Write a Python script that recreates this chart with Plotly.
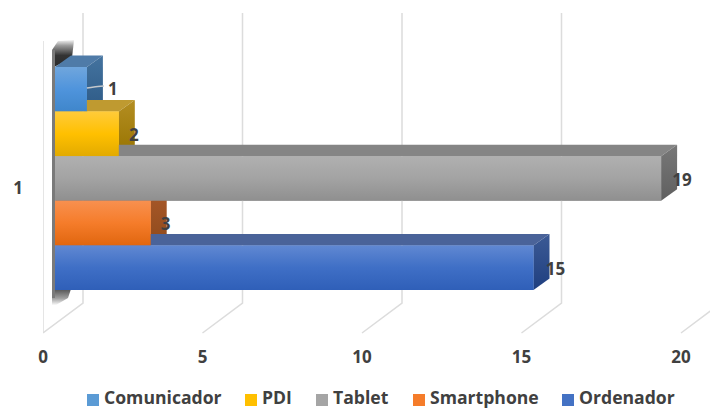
import plotly.graph_objects as go

# ---- data ----
series_names = ["Comunicador", "PDI", "Tablet", "Smartphone", "Ordenador"]
series_values = [1, 2, 19, 3, 15]
category = 1
x_ticks = [0, 5, 10, 15, 20]

# ---- style ----
front_cols = [["#70a6dd", "#4f94dc", "#3f86cb"], ["#ffcb3a", "#ffc000", "#e2aa00"],
              ["#b0b0b0", "#a3a3a3", "#8f8f8f"], ["#f8904f", "#f57c2a", "#e0660f"],
              ["#6088d2", "#3f6fc6", "#2f5fb8"]]
top_cols = ["#4f7ba8", "#bf9a30", "#858585", "#a5582a", "#4a6399"]
side_cols = [["#44739f", "#2d5a86"], ["#b48e22", "#977300"], ["#787878", "#5f5f5f"],
             ["#a9592a", "#8f4a1c"], ["#3c5a95", "#1f3f80"]]
swatch_cols = ["#5b9bd5", "#ffc000", "#a5a5a5", "#f57c2a", "#4472c4"]
label_shift = [26, 15, 21, 15, 22]   # px to the right of the front bar end
label_drop = [1.5, 3, 3, 3, 3]       # px below the row centre
legend_px = [87, 245, 316, 413, 562]
TXT = "#404040"
FONT = dict(family="Open Sans", size=17, color=TXT, weight=700)
LEGEND_FONT = dict(family="Open Sans", size=17.6, color=TXT, weight=700)
GRID = "#dcdcdc"

W, H = 710, 408
ML, MT, MB = 43, 10, 63
SX, SY = 31.9, 223.0          # px per value unit / px per category unit
Y0PX = 188                    # pixel row of category position
X = lambda p: (p - ML) / SX
Y = lambda p: category - (p - Y0PX) / SY
BASE = 12 / SX                # bars stand 12px into the floor
DX, DY = 16 / SX, 11.5 / SY   # bar depth
WX, WB, WT, WF = 40 / SX, Y(303), Y(13), Y(333)  # wall depth and rows
ROW = 0.2
TOP = category + 9.5 / SY + 0.5

fig = go.Figure()

# walls and gridlines
for t in x_ticks:
    fig.add_trace(go.Scatter(x=[t, t + WX, t + WX], y=[WF, WB, WT], mode="lines",
                             line=dict(color=GRID, width=1.5), hoverinfo="skip", showlegend=False))
fig.add_trace(go.Scatter(x=[0, 0], y=[WF, Y(41)], mode="lines",
                         line=dict(color=GRID, width=1.5), hoverinfo="skip", showlegend=False))

# base bars through the axes
for i, (n, v) in enumerate(zip(series_names, series_values)):
    fig.add_trace(go.Bar(name=n, y=[category], x=[v], base=BASE, orientation="h", width=ROW,
                         offset=TOP - ROW * (i + 1) - category, marker=dict(color=swatch_cols[i], line_width=0),
                         showlegend=False))

# shadow of the side wall
def soft(xs, ys, stops):
    fig.add_trace(go.Scatter(x=xs, y=ys, fill="toself", mode="none", hoverinfo="skip", showlegend=False,
                             fillgradient=dict(type="vertical", colorscale=stops)))
soft([X(52), X(72), X(74), X(58), X(52)], [Y(68), Y(58), Y(40), Y(41), Y(50)],
     [[0, "#2a2a2a"], [0.45, "#333333"], [0.8, "#9a9a9a"], [1, "#f4f4f4"]])
soft([X(52), X(72), X(68), X(56), X(52)], [Y(286), Y(286), Y(298), Y(305), Y(305)],
     [[0, "#fafafa"], [0.35, "#a0a0a0"], [1, "#3a3a3a"]])
fig.add_trace(go.Scatter(x=[X(52), X(55), X(55), X(52)], y=[Y(50), Y(50), Y(298), Y(298)],
                         fill="toself", mode="none", fillcolor="#7a7a7a", hoverinfo="skip", showlegend=False))

# hidden faces first: tops and sides
for i, v in enumerate(series_values):
    yt, yb = TOP - ROW * i, TOP - ROW * (i + 1)
    x0, x1 = BASE, BASE + v
    fig.add_trace(go.Scatter(x=[x0, x1, x1 + DX, x0 + DX, x0], y=[yt, yt, yt + DY, yt + DY, yt],
                             fill="toself", mode="none", fillcolor=top_cols[i], hoverinfo="skip", showlegend=False))
    fig.add_trace(go.Scatter(x=[x1, x1 + DX, x1 + DX, x1, x1], y=[yt, yt + DY, yb + DY, yb, yt],
                             fill="toself", mode="none", hoverinfo="skip", showlegend=False,
                             fillgradient=dict(type="vertical",
                                               colorscale=[[0, side_cols[i][1]], [1, side_cols[i][0]]])))
# front faces with their gradient
for i, v in enumerate(series_values):
    yt, yb = TOP - ROW * i, TOP - ROW * (i + 1)
    x0, x1 = BASE, BASE + v
    c = front_cols[i]
    fig.add_trace(go.Scatter(x=[x0, x1, x1, x0, x0], y=[yt, yt, yb, yb, yt],
                             fill="toself", mode="none", hoverinfo="skip", showlegend=False,
                             fillgradient=dict(type="vertical",
                                               colorscale=[[0, c[2]], [0.5, c[1]], [1, c[0]]])))

# leader line of the first label
v0 = series_values[0]
fig.add_trace(go.Scatter(x=[BASE + v0, BASE + v0 + 7 / SX, BASE + v0 + 17 / SX], y=[Y(88), Y(87), Y(86)],
                         mode="lines", line=dict(color="#c4c8cc", width=1.5, shape="spline"),
                         hoverinfo="skip", showlegend=False))

# data labels
for i, v in enumerate(series_values):
    yc = TOP - ROW * (i + 0.5) - label_drop[i] / SY
    fig.add_trace(go.Scatter(x=[BASE + v + label_shift[i] / SX], y=[yc], mode="text", text=[str(v)],
                             textposition="middle center", textfont=FONT, cliponaxis=False,
                             hoverinfo="skip", showlegend=False))

# legend
PW, PH = W - ML, H - MT - MB
shapes, annos = [], []
for n, c, p in zip(series_names, swatch_cols, legend_px):
    shapes.append(dict(type="rect", xref="paper", yref="paper", line_width=0, fillcolor=c,
                       x0=(p - ML) / PW, x1=(p + 12 - ML) / PW,
                       y0=(H - MB - 406) / PH, y1=(H - MB - 394) / PH))
    annos.append(dict(text=n, xref="paper", yref="paper", xanchor="left", yanchor="bottom", showarrow=False,
                      x=(p + 16 - ML) / PW, y=(H - MB - 409.5) / PH, font=LEGEND_FONT, borderpad=0))

fig.update_layout(
    width=W, height=H, margin=dict(l=ML, r=0, t=MT, b=MB, autoexpand=False),
    paper_bgcolor="white", plot_bgcolor="white", showlegend=False,
    barmode="overlay", shapes=shapes, annotations=annos,
    xaxis=dict(range=[0, PW / SX], tickvals=x_ticks, showgrid=False, zeroline=False, showline=False,
               ticks="", tickfont=FONT, ticklabelstandoff=0),
    yaxis=dict(range=[Y(H - MB), Y(MT)], tickvals=[category], ticktext=[str(category)], showgrid=False,
               zeroline=False, showline=False, ticks="", tickfont=FONT, ticklabelstandoff=19),
)
fig.write_html("out.html", post_script="document.body.style.margin='0';",
               config={"displayModeBar": False})
